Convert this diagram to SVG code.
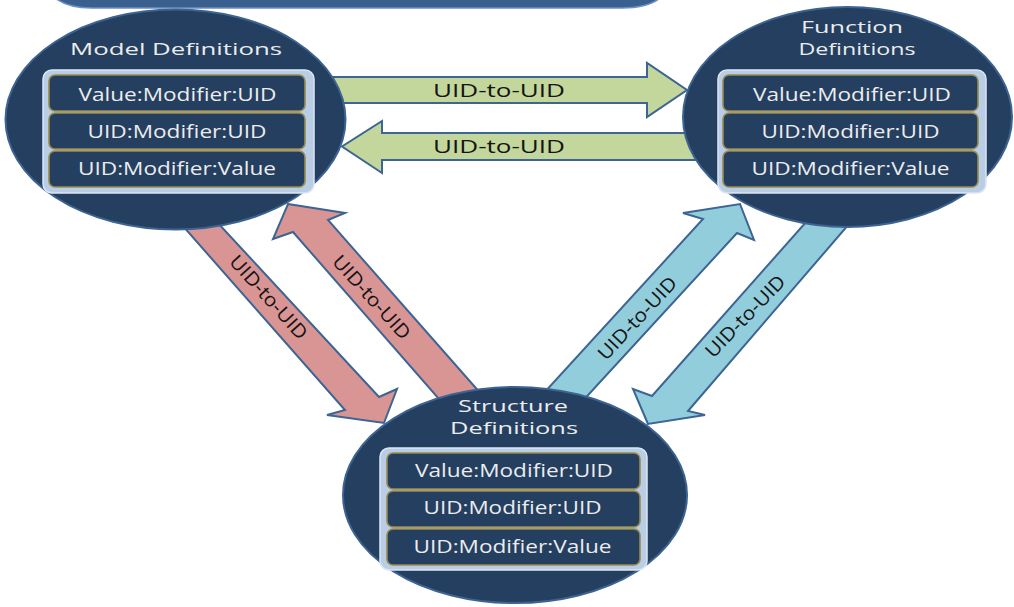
<svg xmlns="http://www.w3.org/2000/svg" width="1014" height="607" viewBox="0 0 1014 607">
<style>
.ell{fill:#243f60;stroke:#3d6391;stroke-width:2}
.box{fill:#b9cde5;stroke:#dbe6f3;stroke-width:1.5}
.row{fill:#243f60;stroke:#9a8a4e;stroke-width:1.6}
.t{font-family:"Open Sans","DejaVu Sans",sans-serif;fill:#ececec;text-anchor:middle}
.ttl{font-size:17px}
.rt{font-size:18px}
.lbl{font-family:"Open Sans","DejaVu Sans",sans-serif;fill:#141414;text-anchor:middle;font-size:18px}
.dg{font-size:19px}
.arr{stroke:#3c6494;stroke-width:2;stroke-linejoin:miter}
.g{fill:#c3d69b}
.r{fill:#d99594}
.b{fill:#92cddc}
</style>
<rect width="1014" height="607" fill="#ffffff"/>
<path d="M55,-2 Q68,8 92,8 L622,8 Q648,8 660,-2 Z" fill="#3a6090" stroke="#6b8fbf" stroke-width="1.5"/>
<g id="connectors">
  <polygon class="arr g" points="320,77 647,77 647,63 687,90 647,117 647,103 320,103"/>
  <polygon class="arr g" points="700,133 382,133 382,121 342,146.5 382,173 382,160 700,160"/>
  <polygon class="arr r" points="160,200 192,195 379,397 397,389 384,423 327,415 345,410"/>
  <polygon class="arr r" points="288,204 345,213 328,220 504,420 466,430 293,232 273,239"/>
  <polygon class="arr b" points="740,204 754,240 737,233 556,430 510,430 703,219 683,213"/>
  <polygon class="arr b" points="648,424 633,389 652,396 830,195 874,195 688,411 705,415"/>
  <text class="lbl" x="499" y="97" textLength="132" lengthAdjust="spacingAndGlyphs">UID-to-UID</text>
  <text class="lbl" x="499" y="153" textLength="132" lengthAdjust="spacingAndGlyphs">UID-to-UID</text>
  <text class="lbl dg" transform="translate(269,297) rotate(48)" y="7" textLength="106" lengthAdjust="spacingAndGlyphs">UID-to-UID</text>
  <text class="lbl dg" transform="translate(372,297) rotate(48)" y="7" textLength="106" lengthAdjust="spacingAndGlyphs">UID-to-UID</text>
  <text class="lbl dg" transform="translate(637,318) rotate(-47)" y="7" textLength="106" lengthAdjust="spacingAndGlyphs">UID-to-UID</text>
  <text class="lbl dg" transform="translate(745,316) rotate(-46)" y="7" textLength="106" lengthAdjust="spacingAndGlyphs">UID-to-UID</text>
</g>
<g id="model">
  <ellipse class="ell" cx="175.5" cy="119.5" rx="170" ry="110"/>
  <text class="t ttl" x="176" y="55" textLength="212" lengthAdjust="spacingAndGlyphs">Model Definitions</text>
  <rect class="box" x="43" y="70" width="271" height="123" rx="9"/>
  <rect class="row" x="49" y="75" width="256" height="36" rx="6"/>
  <rect class="row" x="49" y="113" width="256" height="36" rx="6"/>
  <rect class="row" x="49" y="151" width="256" height="36" rx="6"/>
  <text class="t rt" x="177.5" y="100.5" textLength="198" lengthAdjust="spacingAndGlyphs">Value:Modifier:UID</text>
  <text class="t rt" x="177" y="137.5" textLength="179" lengthAdjust="spacingAndGlyphs">UID:Modifier:UID</text>
  <text class="t rt" x="177" y="175" textLength="198" lengthAdjust="spacingAndGlyphs">UID:Modifier:Value</text>
</g>
<g id="function">
  <ellipse class="ell" cx="847.5" cy="117" rx="164.5" ry="110"/>
  <text class="t ttl" x="852" y="33" textLength="102" lengthAdjust="spacingAndGlyphs">Function</text>
  <text class="t ttl" x="857" y="55" textLength="117" lengthAdjust="spacingAndGlyphs">Definitions</text>
  <rect class="box" x="718" y="70" width="268" height="123" rx="9"/>
  <rect class="row" x="723" y="75" width="255" height="36" rx="6"/>
  <rect class="row" x="723" y="113" width="255" height="36" rx="6"/>
  <rect class="row" x="723" y="151" width="255" height="36" rx="6"/>
  <text class="t rt" x="852" y="100.5" textLength="198" lengthAdjust="spacingAndGlyphs">Value:Modifier:UID</text>
  <text class="t rt" x="850.5" y="137.5" textLength="178" lengthAdjust="spacingAndGlyphs">UID:Modifier:UID</text>
  <text class="t rt" x="850.5" y="175" textLength="198" lengthAdjust="spacingAndGlyphs">UID:Modifier:Value</text>
</g>
<g id="structure">
  <ellipse class="ell" cx="515" cy="495" rx="172" ry="108"/>
  <text class="t ttl" x="513" y="412" textLength="110" lengthAdjust="spacingAndGlyphs">Structure</text>
  <text class="t ttl" x="514" y="434" textLength="128" lengthAdjust="spacingAndGlyphs">Definitions</text>
  <rect class="box" x="380" y="448" width="267" height="122" rx="9"/>
  <rect class="row" x="387" y="453" width="253" height="36" rx="6"/>
  <rect class="row" x="387" y="491" width="253" height="36" rx="6"/>
  <rect class="row" x="387" y="529" width="253" height="36" rx="6"/>
  <text class="t rt" x="514" y="477" textLength="198" lengthAdjust="spacingAndGlyphs">Value:Modifier:UID</text>
  <text class="t rt" x="512.5" y="514" textLength="178" lengthAdjust="spacingAndGlyphs">UID:Modifier:UID</text>
  <text class="t rt" x="512.5" y="553" textLength="198" lengthAdjust="spacingAndGlyphs">UID:Modifier:Value</text>
</g>
</svg>
